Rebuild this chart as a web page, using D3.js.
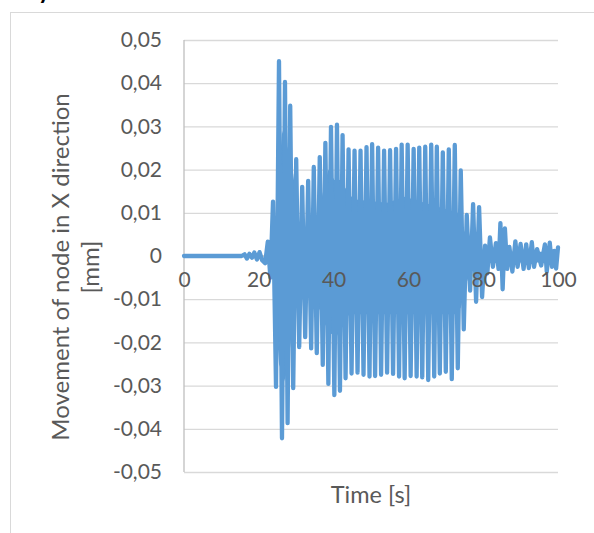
<!DOCTYPE html>
<html>
<head>
<meta charset="utf-8">
<script src="https://cdn.jsdelivr.net/npm/d3@7.9.0/dist/d3.min.js"></script>
<style>
  html, body { margin: 0; padding: 0; background: #fff; }
  svg { display: block; }
  text { font-family: Lato, "Open Sans", sans-serif; fill: #595959; }
</style>
</head>
<body>
<div id="chart"></div>
<script>
// -------- data --------
// time [s] and movement [mm] at each turning point of the trace
const timeS = [
  0, 15.4, 16.2, 16.8, 17.5, 18.2, 18.8, 19.5, 20.2, 20.9,
  21.7, 22.4, 23.1, 23.8, 24.6, 25.4, 26.2, 27.0, 27.7, 28.4,
  29.2, 30.0, 30.8, 31.6, 32.4, 33.2, 34.0, 34.7, 35.5, 36.3,
  37.1, 37.8, 38.6, 39.3, 40.2, 40.9, 41.7, 42.4, 43.2, 44.0,
  44.8, 45.6, 46.4, 47.2, 48.0, 48.8, 49.6, 50.3, 51.1, 51.9,
  52.7, 53.5, 54.3, 55.1, 55.9, 56.7, 57.5, 58.2, 59.0, 59.8,
  60.6, 61.4, 62.2, 62.9, 63.7, 64.5, 65.3, 66.1, 66.9, 67.6,
  68.4, 69.2, 70.0, 70.8, 71.6, 72.4, 73.2, 74.0, 74.8, 75.6,
  76.5, 77.3, 78.1, 78.9, 79.7, 80.5, 81.1, 81.8, 82.6, 83.4,
  84.1, 84.6, 85.2, 85.8, 86.4, 87.0, 87.8, 88.6, 89.2, 90.0,
  90.8, 91.5, 92.2, 93.0, 93.6, 94.4, 95.5, 96.5, 97.0, 97.8,
  98.4, 99.0, 99.5, 100
];
const moveMm = [
  0, 0, 0.0004, -0.0006, 0.0005, -0.0004, 0.0008, -0.0008, 0.0009, -0.0010,
  -0.0017, 0.0033, -0.0050, 0.0126, -0.0303, 0.0451, -0.0422, 0.0403, -0.0387, 0.0348,
  -0.0306, 0.0224, -0.0211, 0.0160, -0.0188, 0.0174, -0.0214, 0.0206, -0.0225, 0.0229,
  -0.0252, 0.0262, -0.0296, 0.0299, -0.0322, 0.0304, -0.0312, 0.0280, -0.0283, 0.0247,
  -0.0272, 0.0244, -0.0270, 0.0244, -0.0275, 0.0252, -0.0279, 0.0259, -0.0278, 0.0251,
  -0.0275, 0.0244, -0.0270, 0.0245, -0.0273, 0.0248, -0.0279, 0.0258, -0.0283, 0.0258,
  -0.0278, 0.0248, -0.0279, 0.0251, -0.0281, 0.0253, -0.0287, 0.0258, -0.0279, 0.0253,
  -0.0272, 0.0240, -0.0268, 0.0247, -0.0285, 0.0257, -0.0260, 0.0198, -0.0170, 0.0095,
  -0.0080, 0.0120, -0.0106, 0.0113, -0.0095, 0.0024, -0.0040, 0.0043, -0.0025, 0.0030,
  -0.0030, 0.0076, -0.0077, 0.0064, -0.0030, 0.0021, -0.0036, 0.0034, -0.0025, 0.0028,
  -0.0030, 0.0027, -0.0028, 0.0032, -0.0025, 0.0016, -0.0022, 0.0027, -0.0036, 0.0031,
  -0.0025, 0.0012, -0.0029, 0.0020
];

// dense part of the trace that prints as solid colour (upper and lower edge)
const coreUpT = [22.0, 23.1, 24.6, 26.2, 27.7, 29.2, 30.8, 32.4, 34.0, 35.5, 37.1, 38.6, 40.2, 41.7, 43.2, 44.8, 46.4, 54.3, 59.0, 73.2, 74.8, 76.5, 80.0, 100];
const coreUp  = [0, 0.002, 0.008, 0.029, 0.025, 0.019, 0.008, 0.004, 0.006, 0.0076, 0.0146, 0.020, 0.0176, 0.0176, 0.0157, 0.0137, 0.013, 0.0123, 0.0137, 0.010, 0.006, 0.003, 0.001, 0.001];
const coreLoT = [22.0, 23.8, 25.4, 27.0, 28.4, 30.0, 31.6, 33.2, 34.7, 36.3, 37.8, 39.3, 40.9, 42.4, 44.0, 45.6, 72.4, 74.0, 75.6, 77.3, 80.0, 100];
const coreLo  = [0, -0.004, -0.025, -0.029, -0.021, -0.0079, -0.004, -0.0075, -0.0098, -0.0125, -0.016, -0.018, -0.0185, -0.016, -0.0137, -0.0135, -0.0135, -0.012, -0.006, -0.002, -0.0015, -0.0015];

const yTicks = [-0.05, -0.04, -0.03, -0.02, -0.01, 0, 0.01, 0.02, 0.03, 0.04, 0.05];
const xTicks = [0, 20, 40, 60, 80, 100];

const yTitle = ['Movement of node in X direction', '[mm]'];
const xTitle = 'Time [s]';

// -------- chart --------
const width = 594;
const height = 533;
const plot = { left: 184, right: 558, top: 40, bottom: 472 };
const blue = '#5b9bd5';

const svg = d3.select('#chart')
  .append('svg')
  .attr('width', width)
  .attr('height', height);

// chart frame (runs off the right/bottom of the crop)
svg.append('rect')
  .attr('x', 10.5).attr('y', 12.5)
  .attr('width', 700).attr('height', 600)
  .attr('fill', 'none')
  .attr('stroke', '#d9d9d9')
  .attr('stroke-width', 1);

// bit of a heading cut off above
svg.append('text')
  .attr('x', 38).attr('y', -1)
  .style('font-size', '24px')
  .style('font-weight', 'bold')
  .style('fill', '#000')
  .text('y');

const x = d3.scaleLinear().domain([0, 100]).range([plot.left, plot.right]);
const y = d3.scaleLinear().domain([-0.05, 0.05]).range([plot.bottom, plot.top]);

const fmt = v => (v === 0 ? '0' : d3.format('.2f')(v).replace('.', ',').replace('−', '-'));

// gridlines
svg.append('g')
  .attr('transform', `translate(${plot.left},0)`)
  .call(d3.axisLeft(y).tickValues(yTicks).tickFormat('').tickSize(-(plot.right - plot.left)))
  .call(g => g.select('.domain').remove())
  .call(g => g.selectAll('line').attr('stroke', '#d9d9d9').attr('stroke-width', 1.3));

// y axis line
svg.append('line')
  .attr('x1', plot.left).attr('x2', plot.left)
  .attr('y1', plot.top).attr('y2', plot.bottom)
  .attr('stroke', '#bfbfbf').attr('stroke-width', 1.3);

// x axis line at 0
svg.append('line')
  .attr('x1', plot.left).attr('x2', plot.right)
  .attr('y1', y(0)).attr('y2', y(0))
  .attr('stroke', '#bfbfbf').attr('stroke-width', 1.3);

// y tick labels
svg.append('g')
  .attr('transform', `translate(${plot.left},0)`)
  .call(d3.axisLeft(y).tickValues(yTicks).tickFormat(fmt).tickSize(0).tickPadding(22))
  .call(g => g.select('.domain').remove())
  .call(g => g.selectAll('text')
    .style('font-family', 'Lato, sans-serif')
    .style('font-size', '21px')
    .attr('fill', '#595959'));

// dense core of the trace
const upData = coreUpT.map((t, i) => [t, coreUp[i]]);
const loData = coreLoT.map((t, i) => [t, coreLo[i]]);
const area = d3.area().x(d => x(d[0])).y0(y(0)).y1(d => y(d[1]));
svg.append('path').datum(upData).attr('d', area).attr('fill', blue);
svg.append('path').datum(loData).attr('d', area).attr('fill', blue);

// the trace
const series = timeS.map((t, i) => [t, moveMm[i]]);
svg.append('path')
  .datum(series)
  .attr('d', d3.line().x(d => x(d[0])).y(d => y(d[1])))
  .attr('fill', 'none')
  .attr('stroke', blue)
  .attr('stroke-width', 4.3)
  .attr('stroke-linejoin', 'round')
  .attr('stroke-linecap', 'round');

// x tick labels, sitting just under the zero line (drawn over the trace)
svg.append('g')
  .attr('transform', `translate(0,${y(0)})`)
  .call(d3.axisBottom(x).tickValues(xTicks).tickFormat(d => d).tickSize(0).tickPadding(16))
  .call(g => g.select('.domain').remove())
  .call(g => g.selectAll('text')
    .style('font-family', 'Lato, sans-serif')
    .style('font-size', '21px')
    .attr('fill', '#595959'));

// axis titles
const yt = svg.append('text')
  .attr('transform', 'translate(0,267) rotate(-90)')
  .attr('text-anchor', 'middle')
  .style('font-size', '24px');
yt.append('tspan').attr('x', 0).attr('y', 69).text(yTitle[0]);
yt.append('tspan').attr('x', 0).attr('y', 99).text(yTitle[1]);

svg.append('text')
  .attr('x', 371).attr('y', 503)
  .attr('text-anchor', 'middle')
  .style('font-size', '23.5px')
  .text(xTitle);
</script>
</body>
</html>
